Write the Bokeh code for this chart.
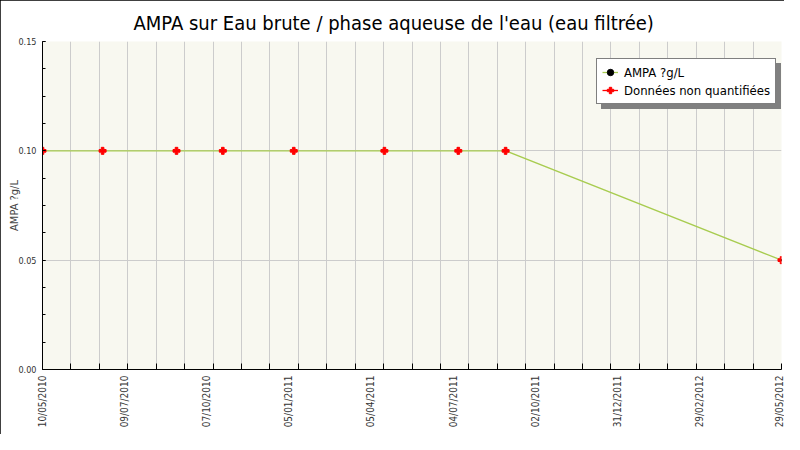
import math
import pandas as pd
from bokeh.plotting import figure
from bokeh.models import Range1d, FixedTicker, Legend, LegendItem, PrintfTickFormatter
from bokeh.embed import file_html
from bokeh.resources import INLINE

# ---- data ----
title_text = "AMPA sur Eau brute / phase aqueuse de l'eau (eau filtrée)"
y_label = "AMPA ?g/L"
series_name = "AMPA ?g/L"
nq_name = "Données non quantifiées"

dates = ["2010-05-10", "2010-07-10", "2010-09-23", "2010-11-09", "2011-01-20",
         "2011-04-22", "2011-07-06", "2011-08-23", "2012-05-29"]
values = [0.10, 0.10, 0.10, 0.10, 0.10, 0.10, 0.10, 0.10, 0.05]

x_tick_labels = ["10/05/2010", "09/07/2010", "07/10/2010", "05/01/2011", "05/04/2011",
                 "04/07/2011", "02/10/2011", "31/12/2011", "29/02/2012", "29/05/2012"]
y_ticks = [0.0, 0.05, 0.10, 0.15]
y_minor_step = 0.0125
n_x_minor = 26

FONT = "DejaVu Sans Condensed"

x_ms = [int(pd.Timestamp(d).value // 10**6) for d in dates]
x0, x1 = x_ms[0], x_ms[-1]
n_lab = len(x_tick_labels)
lab_pos = [x0 + (x1 - x0) * k // (n_lab - 1) for k in range(n_lab)]
minor_pos = [x0 + (x1 - x0) * k / n_x_minor for k in range(n_x_minor + 1)]
y_minor = [round(y_minor_step * k, 4) for k in range(13)]
nan_pair = [float("nan"), float("nan")]

p = figure(width=784, height=434, x_range=Range1d(x0, x1), y_range=Range1d(0, 0.15),
           output_backend="svg", toolbar_location=None, title=title_text,
           min_border_left=42, min_border_right=3, min_border_top=41, min_border_bottom=65)

p.styles = {"outline": "1px solid black", "outline-offset": "-1px"}
p.background_fill_color = "#f8f8f0"
p.border_fill_color = "white"
p.outline_line_color = None

p.title.align = "left"
p.title.offset = 91
p.title.standoff = 13
p.title.text_font = FONT
p.title.text_font_size = "20px"
p.title.text_font_style = "normal"
p.title.text_color = "black"

# x axis
xa = p.xaxis[0]
xa.ticker = FixedTicker(ticks=lab_pos, minor_ticks=minor_pos)
xa.major_label_overrides = {pos: lab for pos, lab in zip(lab_pos, x_tick_labels)}
xa.major_label_orientation = math.pi / 2
xa.major_label_text_font = FONT
xa.major_label_text_font_size = "10px"
xa.major_label_text_color = "#333333"
xa.major_label_standoff = 6
xa.major_tick_in = 0
xa.major_tick_out = 0
xa.minor_tick_in = 6
xa.minor_tick_out = 0
xa.minor_tick_line_color = "black"
xa.axis_line_color = "black"

# y axis
ya = p.yaxis[0]
ya.ticker = FixedTicker(ticks=y_ticks, minor_ticks=y_minor)
ya.formatter = PrintfTickFormatter(format="%.2f")
ya.major_label_text_font = FONT
ya.major_label_text_font_size = "9px"
ya.major_label_text_color = "#333333"
ya.major_label_standoff = 6
ya.major_tick_in = 3
ya.major_tick_out = 0
ya.minor_tick_in = 3
ya.minor_tick_out = 0
ya.axis_label = y_label
ya.axis_label_text_font = FONT
ya.axis_label_text_font_size = "11px"
ya.axis_label_text_font_style = "normal"
ya.axis_label_standoff = -6
ya.axis_line_color = "black"

p.xgrid.ticker = FixedTicker(ticks=minor_pos)
p.xgrid.grid_line_color = "#cccccc"
p.ygrid.grid_line_color = "#cccccc"

# series
ln = p.line(x_ms, values, line_color="#a8cc50", line_width=1.3)
dots = p.scatter(x_ms, values, size=1.5, color="black")
nq = p.scatter(x_ms, values, marker="plus", size=7, color="red")
# legend-only red line (NaN values -> nothing drawn in the plot)
nq_line = p.line([x0, x1], nan_pair, line_color="red", line_width=1.3)

# shadow legend proxies (invisible)
sh1 = p.line([x0, x1], nan_pair, line_alpha=0)
sh2 = p.line([x0, x1], nan_pair, line_alpha=0)

def style_legend(lg):
    lg.label_text_font = FONT
    lg.label_text_font_size = "13px"
    lg.glyph_width = 16
    lg.glyph_height = 16
    lg.label_height = 16
    lg.label_standoff = 6
    lg.spacing = 2
    lg.padding = 5
    lg.margin = 0
    lg.border_line_width = 1

shadow = Legend(items=[LegendItem(label=" ", renderers=[sh1]),
                       LegendItem(label=" ", renderers=[sh2])],
                location=(559, 260))
style_legend(shadow)
shadow.label_width = 150
shadow.background_fill_color = "#808080"
shadow.background_fill_alpha = 1
shadow.border_line_color = "#808080"
shadow.label_text_color = "#808080"

legend = Legend(items=[LegendItem(label=series_name, renderers=[ln, dots]),
                       LegendItem(label=nq_name, renderers=[nq_line, nq])],
                location=(554, 265))
style_legend(legend)
legend.background_fill_color = "white"
legend.background_fill_alpha = 1
legend.border_line_color = "black"
legend.label_text_color = "black"

p.add_layout(shadow, "center")
p.add_layout(legend, "center")

open("out.html", "w").write(file_html(p, INLINE))
